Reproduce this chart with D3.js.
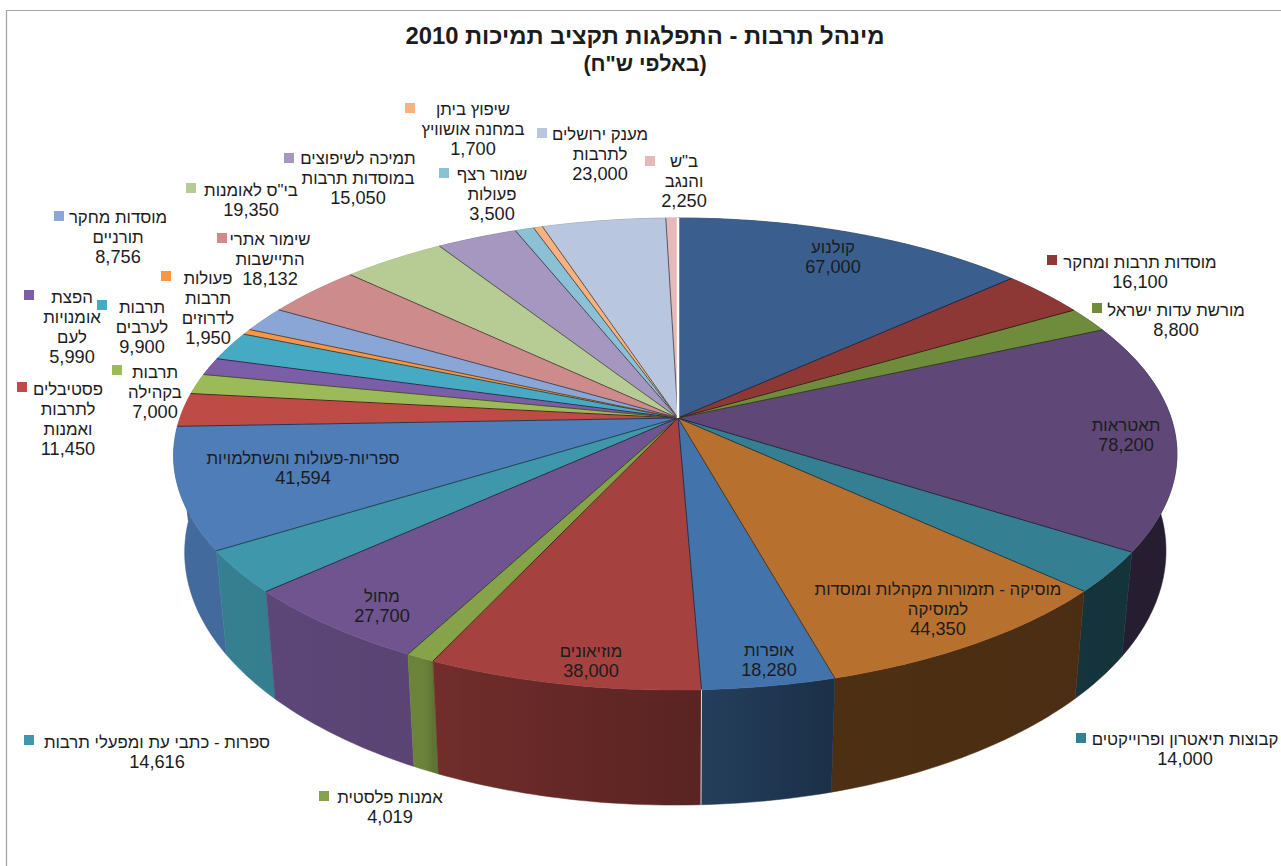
<!DOCTYPE html>
<html lang="he">
<head>
<meta charset="utf-8">
<script src="https://cdn.jsdelivr.net/npm/d3@7"></script>
<style>
  html, body { margin: 0; padding: 0; background: #fff; }
  svg { display: block; }
  text { font-family: "Liberation Sans", Arial, sans-serif; direction: rtl; text-anchor: middle; dominant-baseline: central; fill: #1c1c1c; }
</style>
</head>
<body>
<div id="chart"></div>
<script>
// values in thousands of shekels, clockwise from 12 o'clock
const categories = [
  "קולנוע", "מוסדות תרבות ומחקר", "מורשת עדות ישראל", "תאטראות", "קבוצות תיאטרון ופרוייקטים",
  "מוסיקה - תזמורות מקהלות ומוסדות למוסיקה", "אופרות", "מוזיאונים", "אמנות פלסטית", "מחול",
  "ספרות - כתבי עת ומפעלי תרבות", "ספריות-פעולות והשתלמויות", "פסטיבלים לתרבות ואמנות", "תרבות בקהילה",
  "הפצת אומנויות לעם", "תרבות לערבים", "פעולות תרבות לדרוזים", "מוסדות מחקר תורניים", "שימור אתרי התיישבות",
  "בי\"ס לאומנות", "תמיכה לשיפוצים במוסדות תרבות", "שמור רצף פעולות", "שיפוץ ביתן במחנה אושוויץ",
  "מענק ירושלים לתרבות", "ב\"ש והנגב"
];
const values = [
  67000, 16100, 8800, 78200, 14000, 44350, 18280, 38000, 4019, 27700, 14616, 41594, 11450,
  7000, 5990, 9900, 1950, 8756, 18132, 19350, 15050, 3500, 1700, 23000, 2250
];
const colors = [
  "#3a5f8e", "#8e3835", "#6f8c3c", "#5f4878", "#357f93", "#b8702e", "#4373ab", "#a5423f", "#86a34a", "#6f5490",
  "#3f97ab", "#4f7db8", "#bf4b47", "#9bbb59", "#7b5ea7", "#46aac5", "#f79646", "#8aa6d6", "#cd8c8b", "#b7cc95",
  "#a597bf", "#8cc0d4", "#f8b180", "#b9c6e0", "#e6b9b8"
];
// how each label wraps, same order as categories
const labelLines = [
  ["קולנוע"], ["מוסדות תרבות ומחקר"], ["מורשת עדות ישראל"], ["תאטראות"], ["קבוצות תיאטרון ופרוייקטים"],
  ["מוסיקה - תזמורות מקהלות ומוסדות", "למוסיקה"], ["אופרות"], ["מוזיאונים"], ["אמנות פלסטית"], ["מחול"],
  ["ספרות - כתבי עת ומפעלי תרבות"], ["ספריות-פעולות והשתלמויות"], ["פסטיבלים", "לתרבות", "ואמנות"], ["תרבות", "בקהילה"],
  ["הפצת", "אומנויות", "לעם"], ["תרבות", "לערבים"], ["פעולות", "תרבות", "לדרוזים"], ["מוסדות מחקר", "תורניים"], ["שימור אתרי", "התיישבות"],
  ["בי\"ס לאומנות"], ["תמיכה לשיפוצים", "במוסדות תרבות"], ["שמור רצף", "פעולות"], ["שיפוץ ביתן", "במחנה אושוויץ"],
  ["מענק ירושלים", "לתרבות"], ["ב\"ש", "והנגב"]
];

const width = 1281, height = 866;

// label placement: centre x, first line y, key x, key y (key null = inside the slice)
const labelPos = [
  [833, 247, null, null], [1140, 262, 1052, 260], [1176, 310, 1097, 308], [1126, 425, null, null], [1185, 739, 1081, 738],
  [938, 589, null, null], [769, 650, null, null], [591, 651, null, null], [390, 797, 324, 796], [382, 596, null, null],
  [157, 742, 29, 740], [303, 458, null, null], [68, 389, 22, 387], [155, 372, 117, 370],
  [72, 297, 29, 295], [142, 307, 102, 305], [208, 278, 166, 276], [118, 217, 59, 216], [270, 239, 222, 238],
  [251, 190, 191, 188], [358, 158, 289, 158], [492, 174, 444, 173], [473, 109, 410, 108],
  [600, 134, 542, 133], [684, 161, 650, 161]
];
const lineStep = 20;

// perspective of the pie disc, fitted by eye
const cx = 678, cy = 418, camD = 6.55, camB = 1510;
const camALeft = 3262, camARight = 3230; // the right half comes out a little narrower

function projectTop(a) {
  const u = Math.sin(a), v = -Math.cos(a);
  // front of the disc leans slightly left in the reference
  const lean = -3.5 * Math.max(0, v) * Math.max(0, Math.min(1, 1 - u / 0.25));
  return [cx + (u > 0 ? camARight : camALeft) * u / (camD - v) + lean, cy + camB * v / (camD - v)];
}
// bottom rim: pulled in a little and pushed down, more towards the viewer
const wallHeight = d3.scaleLinear().domain([548, 690]).range([104, 115]);
function projectBottom(a) {
  const p = projectTop(a);
  return [cx + (p[0] - cx) * 0.978, p[1] + wallHeight(p[1])];
}

// the side wall darkens to the right
const wallShade = d3.scaleLinear().domain([200, 425, 435, 700, 835, 1180]).range([0.85, 0.8, 0.68, 0.54, 0.42, 0.4]).clamp(true);
const darken = (c, f) => {
  const r = d3.rgb(c);
  return d3.rgb(r.r * f, r.g * f, r.b * f).formatHex();
};

const pie = d3.pie().sort(null).value(d => d);
const slices = pie(values).map((s, i) => ({ ...s, i, color: colors[i] }));

const svg = d3.select("#chart").append("svg").attr("width", width).attr("height", height);
const defs = svg.append("defs");

svg.append("path").attr("d", `M6.5,${height}V10.5H${width}`).attr("fill", "none").attr("stroke", "#a3a3a3").attr("stroke-width", 1.2);

svg.append("text").attr("x", 645).attr("y", 35).attr("font-size", 23.8).attr("font-weight", "bold").attr("fill", "#111")
  .text("מינהל תרבות - התפלגות תקציב תמיכות 2010");
svg.append("text").attr("x", 645).attr("y", 64).attr("font-size", 21.5).attr("font-weight", "bold").attr("fill", "#111")
  .text("(באלפי ש\"ח)");

const line = d3.line();
function rim(d, fn) {
  const n = Math.max(2, Math.ceil((d.endAngle - d.startAngle) * 60));
  return d3.range(n + 1).map(j => fn(d.startAngle + (d.endAngle - d.startAngle) * j / n));
}

// walls, back to front
const order = slices.slice().sort((a, b) => Math.cos(b.startAngle / 2 + b.endAngle / 2) - Math.cos(a.startAngle / 2 + a.endAngle / 2));
order.forEach(d => {
  const top = rim(d, projectTop), bot = rim(d, projectBottom);
  const ex = d3.extent(top, p => p[0]);
  const grad = defs.append("linearGradient").attr("id", "wall" + d.i).attr("gradientUnits", "userSpaceOnUse")
    .attr("x1", ex[0]).attr("x2", ex[1] + 0.01).attr("y1", 0).attr("y2", 0);
  d3.range(9).forEach(j => {
    const t = j / 8;
    grad.append("stop").attr("offset", t).attr("stop-color", darken(d.color, wallShade(ex[0] + (ex[1] - ex[0]) * t)));
  });
  svg.append("path").attr("class", "wall").attr("d", line(top.concat(bot.reverse())) + "Z").attr("fill", `url(#wall${d.i})`)
    .attr("stroke", `url(#wall${d.i})`).attr("stroke-width", 0.5);
});

// top faces
svg.selectAll("path.face").data(slices).join("path").attr("class", "face")
  .attr("d", d => line([[cx, cy]].concat(rim(d, projectTop))) + "Z")
  .attr("fill", d => d.color)
  .attr("stroke", d => d.color).attr("stroke-width", 0.4);

// radial separators only, the outer rim has no outline
svg.selectAll("path.sep").data(slices).join("path").attr("class", "sep")
  .attr("d", d => line([[cx, cy], projectTop(d.endAngle)]))
  .attr("fill", "none")
  .attr("stroke", d => darken(d.color, 0.45)).attr("stroke-width", 1);

// white seam at 12 o'clock and the crack on the front wall
const seam = projectTop(0);
svg.append("path").attr("d", line([[cx, cy], seam])).attr("stroke", "#fff").attr("stroke-width", 2.5).attr("fill", "none");
const crack = slices[6].endAngle;
svg.append("path").attr("d", line([projectTop(crack), projectBottom(crack)])).attr("stroke", "#fff").attr("stroke-width", 0.8).attr("fill", "none");

// labels
const fmt = d3.format(",");
slices.forEach(d => {
  const [x, y, kx, ky] = labelPos[d.i];
  labelLines[d.i].forEach((t, j) => {
    svg.append("text").attr("x", x).attr("y", y + j * lineStep).attr("font-size", 16.8).text(t);
  });
  svg.append("text").attr("x", x).attr("y", y + labelLines[d.i].length * lineStep).attr("font-size", 18.2).text(fmt(d.value));
  if (kx !== null) {
    svg.append("rect").attr("x", kx - 5).attr("y", ky - 5).attr("width", 10).attr("height", 10).attr("fill", d.color);
  }
});
</script>
</body>
</html>
